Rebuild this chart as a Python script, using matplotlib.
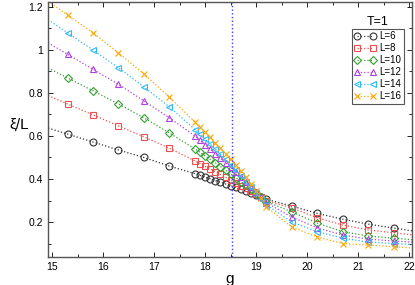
import numpy as np
import matplotlib
matplotlib.use('Agg')
import matplotlib.pyplot as plt
from matplotlib.ticker import MultipleLocator

plt.rcParams['font.family'] = ['Liberation Sans', 'DejaVu Sans']

# coupling values: sparse left, dense around the crossing, sparse right
g = [15.3, 15.8, 16.3, 16.8, 17.3,
     17.8, 17.9, 18.0, 18.1, 18.2, 18.3, 18.4, 18.5, 18.6, 18.7, 18.8, 18.9, 19.0, 19.1, 19.2,
     19.7, 20.2, 20.7, 21.2, 21.7]

L6 = [0.609, 0.572, 0.535, 0.500, 0.460,
      0.425, 0.417, 0.409, 0.401, 0.393, 0.385, 0.377, 0.369, 0.361, 0.352, 0.344, 0.335, 0.326, 0.316, 0.306,
      0.274, 0.240, 0.213, 0.190, 0.172]
L8 = [0.749, 0.698, 0.647, 0.596, 0.543,
      0.484, 0.472, 0.459, 0.447, 0.434, 0.421, 0.408, 0.395, 0.382, 0.369, 0.356, 0.342, 0.328, 0.314, 0.300,
      0.265, 0.220, 0.186, 0.163, 0.150]
L10 = [0.870, 0.810, 0.749, 0.684, 0.614,
       0.540, 0.524, 0.508, 0.491, 0.475, 0.458, 0.441, 0.424, 0.406, 0.388, 0.370, 0.352, 0.333, 0.314, 0.295,
       0.247, 0.195, 0.155, 0.135, 0.125]
L12 = [0.980, 0.910, 0.840, 0.763, 0.684,
       0.600, 0.580, 0.560, 0.539, 0.518, 0.497, 0.476, 0.454, 0.432, 0.409, 0.386, 0.362, 0.338, 0.314, 0.290,
       0.223, 0.172, 0.140, 0.120, 0.112]
L14 = [1.080, 1.000, 0.917, 0.828, 0.735,
       0.630, 0.608, 0.585, 0.562, 0.539, 0.515, 0.491, 0.466, 0.441, 0.415, 0.388, 0.361, 0.334, 0.307, 0.280,
       0.200, 0.155, 0.125, 0.107, 0.100]
L16 = [1.163, 1.080, 0.986, 0.888, 0.780,
       0.665, 0.641, 0.617, 0.593, 0.568, 0.543, 0.517, 0.491, 0.464, 0.436, 0.407, 0.377, 0.346, 0.310, 0.270,
       0.177, 0.130, 0.100, 0.093, 0.085]

series = [L6, L8, L10, L12, L14, L16]
labels = ['L=6', 'L=8', 'L=10', 'L=12', 'L=14', 'L=16']
colors = ['#333333', '#f05050', '#33a033', '#b040e0', '#30b8f8', '#ffa500']
markers = ['o', 's', 'D', '^', '<', 'x']
msizes = [5, 5, 4, 5, 5, 5]
g_c = 18.53

xmin, xmax = 14.92, 22.06

fig = plt.figure(figsize=(4.15, 2.85), dpi=100)
ax = fig.add_axes([0.116, 0.098, 0.877, 0.895])

x = np.array(g)
for y, lab, c, m, ms in zip(series, labels, colors, markers, msizes):
    y = np.array(y)
    # dotted guide extended to the frame edges
    y0 = y[0] + (y[1] - y[0]) / (x[1] - x[0]) * (xmin - x[0])
    y1 = y[-1] + (y[-1] - y[-2]) / (x[-1] - x[-2]) * (xmax - x[-1])
    xl = np.concatenate([[xmin], x, [xmax]])
    yl = np.concatenate([[y0], y, [y1]])
    ax.plot(xl, yl, ':', color=c, lw=0.9)
    ax.plot(x, y, m, color=c, mfc='none', ms=ms, mew=0.8, ls='none')
    ax.plot([], [], ':', color=c, lw=0.9, marker=m, mfc='none', ms=ms, mew=0.8, label=lab)

ax.axvline(g_c, color='#4040ff', ls=':', lw=1.0)

ax.set_xlim(xmin, xmax)
ax.set_ylim(0.037, 1.223)
ax.xaxis.set_major_locator(MultipleLocator(1))
ax.xaxis.set_minor_locator(MultipleLocator(0.5))
ax.yaxis.set_major_locator(MultipleLocator(0.2))
ax.yaxis.set_minor_locator(MultipleLocator(0.1))
ax.set_yticks([0.2, 0.4, 0.6, 0.8, 1.0, 1.2])
ax.set_yticklabels(['0.2', '0.4', '0.6', '0.8', '1', '1.2'])
ax.tick_params(which='both', direction='in', top=True, right=True, labelsize=7.5, width=0.6)
ax.tick_params(which='major', length=3.5)
ax.tick_params(which='minor', length=2)
for s in ax.spines.values():
    s.set_color('#555555')
    s.set_linewidth(1.0)

ax.set_xlabel('g', fontsize=11, labelpad=0)
ax.set_ylabel('ξ/L', fontsize=11, rotation=0)
ax.yaxis.set_label_coords(-0.08, 0.49)

leg = ax.legend(loc='upper right', bbox_to_anchor=(0.978, 0.894), numpoints=2, fontsize=7,
                handlelength=2.2, handletextpad=0.4, borderpad=0.25, labelspacing=0.2,
                borderaxespad=0, fancybox=False, edgecolor='#555555', framealpha=1)
leg.get_frame().set_linewidth(0.8)
ax.text(0.904, 0.92, 'T=1', transform=ax.transAxes, ha='center', va='center', fontsize=9)

fig.savefig('out.png', dpi=100)
